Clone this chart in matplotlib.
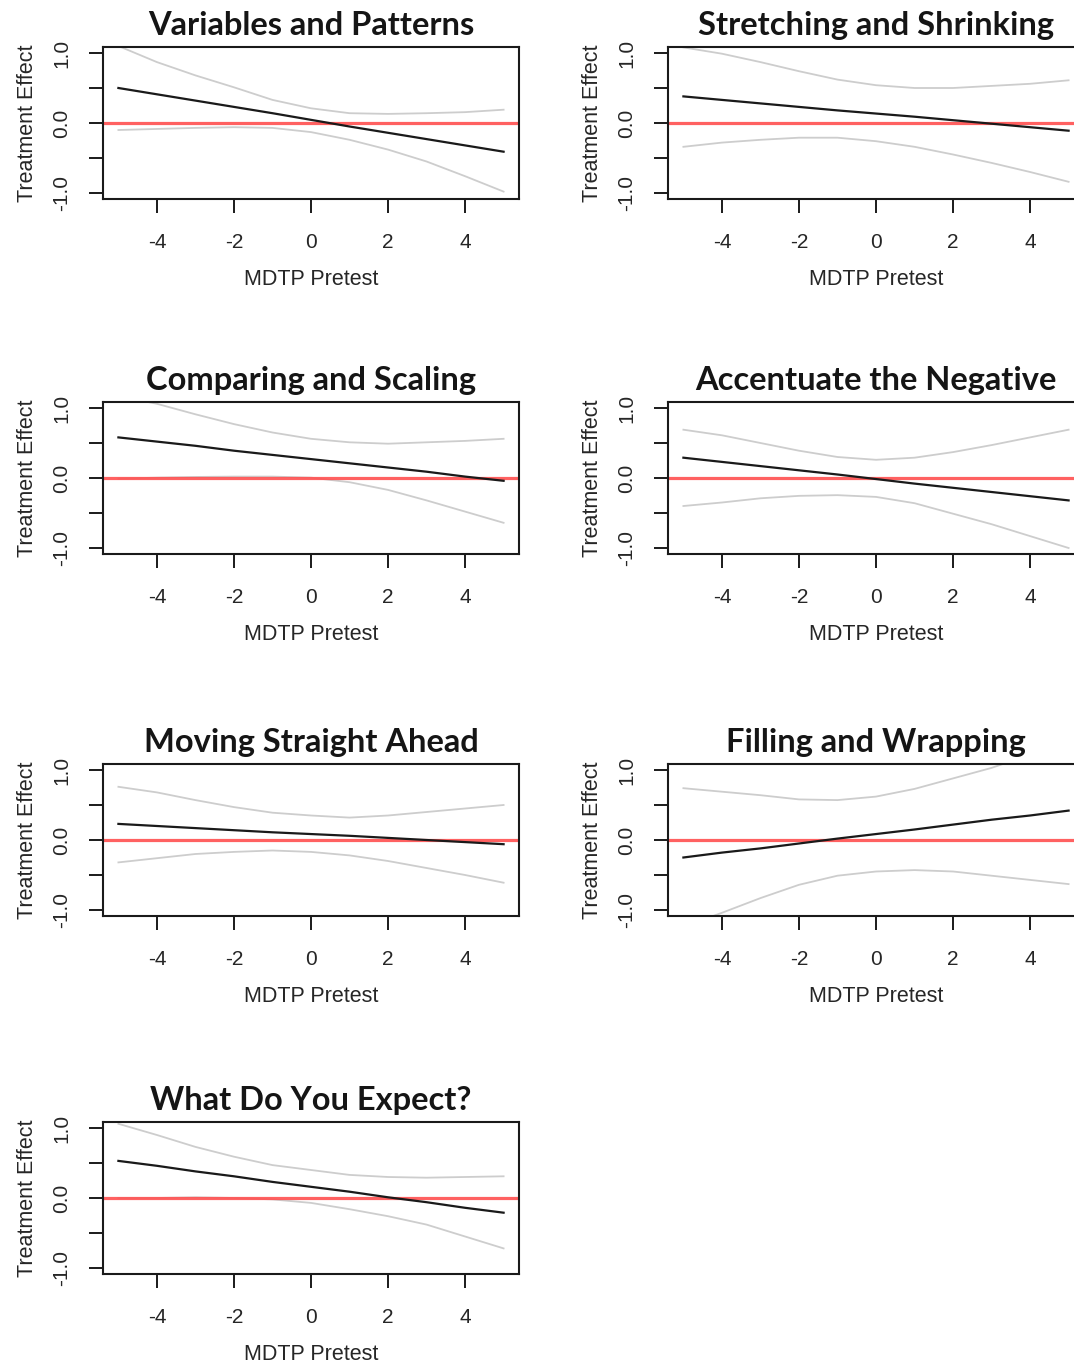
import matplotlib
matplotlib.use("Agg")
import matplotlib.pyplot as plt

# pretest values at which the curves were read
x_vals = [-5, -4, -3, -2, -1, 0, 1, 2, 3, 4, 5]

titles = [
    "Variables and Patterns",
    "Stretching and Shrinking",
    "Comparing and Scaling",
    "Accentuate the Negative",
    "Moving Straight Ahead",
    "Filling and Wrapping",
    "What Do You Expect?",
]

# estimated treatment effect (black line)
effect_vp = [0.50, 0.41, 0.32, 0.23, 0.14, 0.045, -0.05, -0.14, -0.23, -0.32, -0.41]
effect_ss = [0.38, 0.33, 0.28, 0.23, 0.18, 0.135, 0.09, 0.04, -0.01, -0.06, -0.11]
effect_cs = [0.58, 0.52, 0.46, 0.39, 0.33, 0.27, 0.21, 0.15, 0.09, 0.02, -0.04]
effect_an = [0.29, 0.23, 0.17, 0.11, 0.05, -0.015, -0.08, -0.14, -0.20, -0.26, -0.32]
effect_ms = [0.23, 0.20, 0.17, 0.14, 0.11, 0.085, 0.06, 0.03, 0.00, -0.03, -0.06]
effect_fw = [-0.25, -0.18, -0.12, -0.05, 0.02, 0.085, 0.15, 0.22, 0.29, 0.35, 0.42]
effect_we = [0.53, 0.46, 0.38, 0.31, 0.23, 0.16, 0.09, 0.01, -0.06, -0.14, -0.21]

# upper confidence band (gray)
upper_vp = [1.10, 0.87, 0.68, 0.51, 0.33, 0.21, 0.14, 0.13, 0.14, 0.155, 0.19]
upper_ss = [1.08, 0.99, 0.87, 0.74, 0.62, 0.54, 0.50, 0.50, 0.53, 0.56, 0.61]
upper_cs = [1.17, 1.06, 0.91, 0.77, 0.65, 0.56, 0.51, 0.49, 0.51, 0.53, 0.56]
upper_an = [0.69, 0.61, 0.50, 0.39, 0.30, 0.26, 0.29, 0.37, 0.47, 0.58, 0.69]
upper_ms = [0.76, 0.68, 0.57, 0.47, 0.39, 0.35, 0.32, 0.35, 0.40, 0.45, 0.50]
upper_fw = [0.74, 0.69, 0.64, 0.58, 0.57, 0.62, 0.73, 0.88, 1.03, 1.22, 1.45]
upper_we = [1.06, 0.90, 0.73, 0.59, 0.47, 0.40, 0.33, 0.30, 0.29, 0.30, 0.31]

# lower confidence band (gray)
lower_vp = [-0.10, -0.085, -0.07, -0.06, -0.07, -0.13, -0.24, -0.38, -0.55, -0.76, -0.98]
lower_ss = [-0.34, -0.28, -0.24, -0.21, -0.21, -0.26, -0.34, -0.45, -0.57, -0.70, -0.84]
lower_cs = [-0.01, 0.005, 0.015, 0.02, 0.02, 0.005, -0.06, -0.17, -0.32, -0.48, -0.64]
lower_an = [-0.40, -0.35, -0.29, -0.255, -0.245, -0.27, -0.36, -0.51, -0.66, -0.83, -1.00]
lower_ms = [-0.32, -0.26, -0.20, -0.17, -0.15, -0.17, -0.22, -0.30, -0.40, -0.50, -0.61]
lower_fw = [-1.24, -1.04, -0.83, -0.64, -0.51, -0.45, -0.43, -0.45, -0.51, -0.57, -0.63]
lower_we = [0.00, 0.00, 0.01, 0.00, -0.02, -0.07, -0.16, -0.26, -0.38, -0.55, -0.72]

effects = [effect_vp, effect_ss, effect_cs, effect_an, effect_ms, effect_fw, effect_we]
uppers = [upper_vp, upper_ss, upper_cs, upper_an, upper_ms, upper_fw, upper_we]
lowers = [lower_vp, lower_ss, lower_cs, lower_an, lower_ms, lower_fw, lower_we]

x_ticks = [-4, -2, 0, 2, 4]
x_ticklabels = ["-4", "-2", "0", "2", "4"]
y_ticks = [-1.0, -0.5, 0.0, 0.5, 1.0]
y_ticklabels = ["-1.0", "", "0.0", "", "1.0"]

W, H = 1074, 1367
fig = plt.figure(figsize=(W / 100, H / 100), dpi=100)
plt.rcParams["font.family"] = ["Liberation Sans", "DejaVu Sans"]

# layout in pixels: left edge of each column, zero line of each row
col_left = [103, 668]
row_zero = [123, 478, 840, 1198]
ax_w = 416
half_h = 75.6

text_col = "#262626"

for i, title in enumerate(titles):
    r, c = divmod(i, 2)
    left = col_left[c]
    top = row_zero[r] - half_h
    ax = fig.add_axes([left / W, 1 - (top + 2 * half_h) / H, ax_w / W, 2 * half_h / H])

    ax.axhline(0, color="#ff5050", lw=2.3, alpha=0.9, zorder=2)
    ax.plot(x_vals, uppers[i], color="#cdcdcd", lw=1.3, zorder=1)
    ax.plot(x_vals, lowers[i], color="#cdcdcd", lw=1.3, zorder=1)
    ax.plot(x_vals, effects[i], color="#1a1a1a", lw=1.6, zorder=3)

    ax.set_xlim(-5.4, 5.4)
    ax.set_ylim(-1.08, 1.08)
    ax.set_xticks(x_ticks)
    ax.set_xticklabels(x_ticklabels)
    ax.set_yticks(y_ticks)
    ax.set_yticklabels(y_ticklabels, rotation=90, va="center")

    for s in ax.spines.values():
        s.set_linewidth(1.5)
        s.set_color("#1a1a1a")
    ax.tick_params(length=10, width=1.4, color="#1a1a1a", pad=15,
                   labelsize=15, labelcolor=text_col)
    ax.tick_params(axis="y", pad=13)

    ax.set_xlabel("MDTP Pretest", fontsize=15.5, color=text_col, labelpad=12)
    ax.set_ylabel("Treatment Effect", fontsize=15.5, color=text_col, labelpad=10)
    ax.set_title(title, family=["Lato", "DejaVu Sans"], fontweight="bold",
                 fontsize=23.5, color="#151515", pad=9)

fig.savefig("out.png", dpi=100)
